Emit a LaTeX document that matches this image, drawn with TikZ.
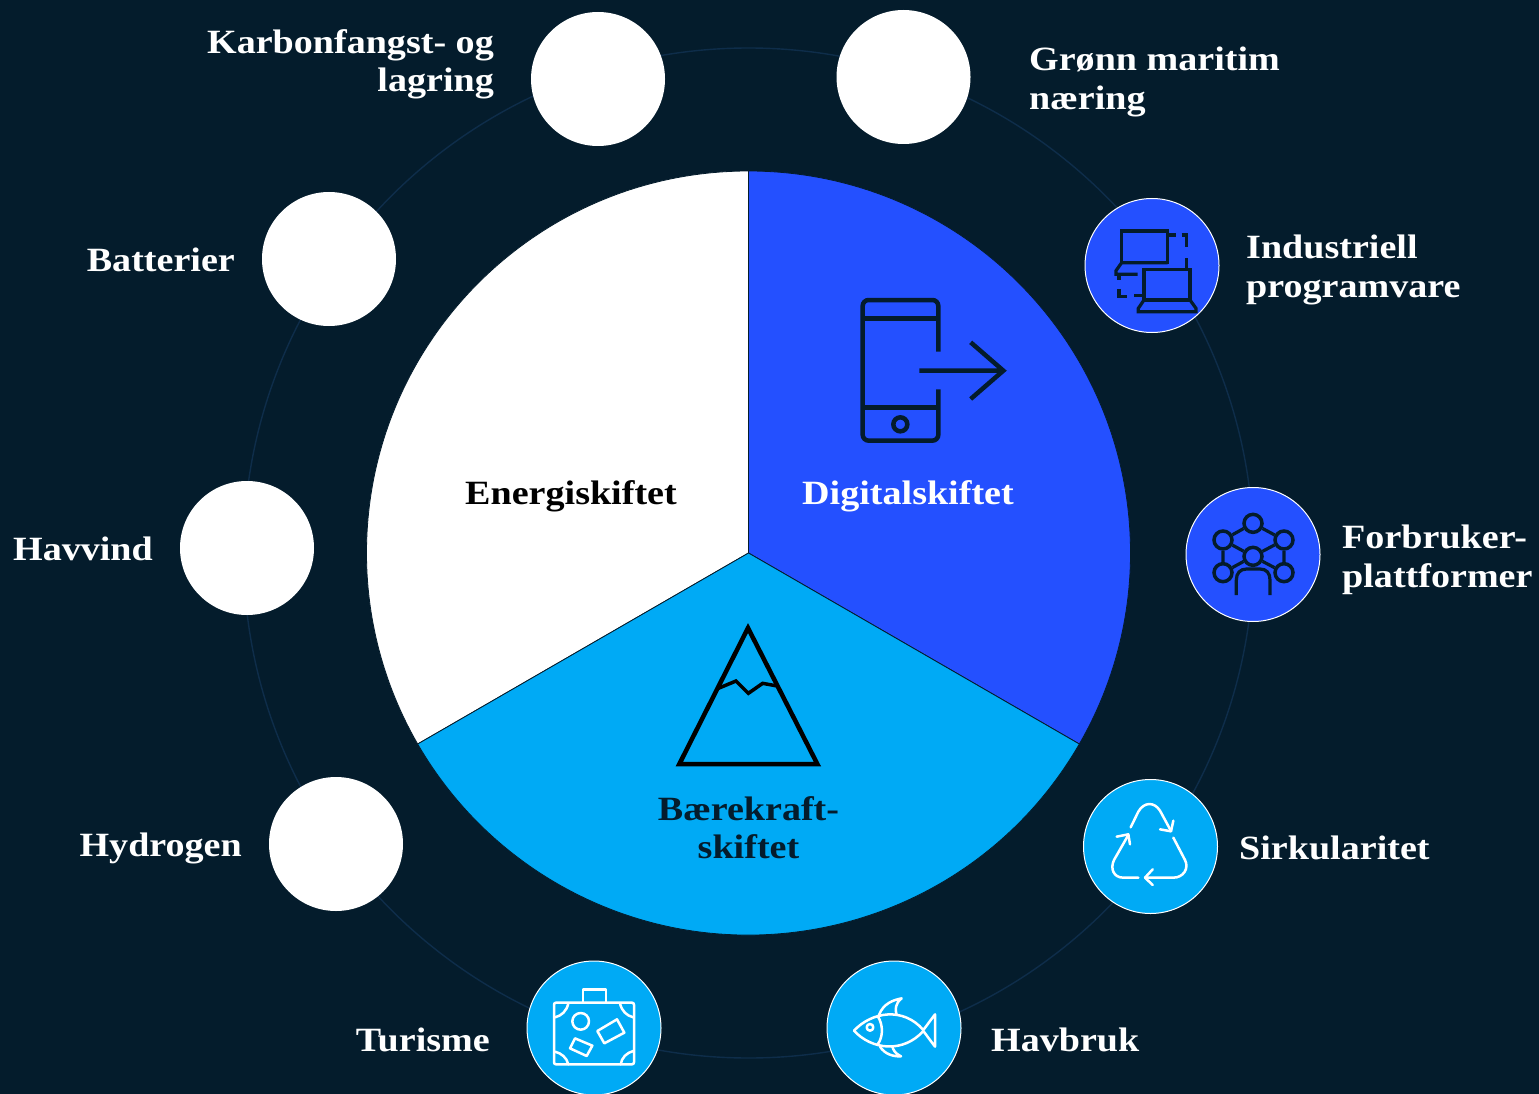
\documentclass[tikz,border=0pt]{standalone}
\usepackage{fontspec}
\setmainfont{Liberation Serif}[FakeStretch=1.12]
\usepackage{tikz}
\definecolor{navy}{HTML}{041C2C}
\definecolor{ringline}{HTML}{0E2D4A}
\definecolor{digiblue}{HTML}{2450FF}
\definecolor{skyblue}{HTML}{00AAF5}
\tikzset{
  disc/.style={circle,minimum size=134pt,inner sep=0pt,fill=white},
  bluedisc/.style={disc,fill=digiblue,draw=white,line width=1pt},
  skydisc/.style={disc,fill=skyblue,draw=white,line width=1pt},
  label/.style={text=white,font=\bfseries\fontsize{34}{38.5}\selectfont,inner sep=0pt,align=left},
  rightlabel/.style={label,align=right},
  darkicon/.style={draw=navy,line width=3.2pt},
  whiteicon/.style={draw=white,line width=2.5pt,line cap=round,line join=round},
  atom/.style={circle,draw=navy,line width=3.5pt,minimum size=18pt,inner sep=0pt},
  wedge/.style={draw=navy,line width=0.8pt}
}
\begin{document}
\begin{tikzpicture}[x=1pt,y=-1pt]
  \useasboundingbox (0,0) rectangle (1539,1094);
  \fill[navy] (0,0) rectangle (1539,1094);
  \begin{scope}
  \clip (0,0) rectangle (1539,1094);
  % ring behind the discs
  \coordinate (hub) at (748.5,553);
  \draw[ringline,line width=1.4pt] (hub) circle (505);

  % the three sectors
  \fill[white,wedge] (hub) -- (748.5,171) arc (-90:-210:382) -- cycle;
  \fill[digiblue,wedge] (hub) -- (748.5,171) arc (-90:30:382) -- cycle;
  \fill[skyblue,wedge] (hub) -- ++(30:382) arc (30:150:382) -- cycle;

  % outer discs
  \node[disc] (karbon) at (598,79) {};
  \node[disc] (maritim) at (903.5,77) {};
  \node[bluedisc] (program) at (1152,265.5) {};
  \node[bluedisc] (plattform) at (1253,554.5) {};
  \node[skydisc] (sirkel) at (1150.5,846.5) {};
  \node[skydisc] (havbruk) at (894,1028) {};
  \node[skydisc] (turisme) at (594,1028) {};
  \node[disc] (hydrogen) at (336,844) {};
  \node[disc] (havvind) at (247,548) {};
  \node[disc] (batteri) at (329,259) {};
  \end{scope}

  % labels
  \node[rightlabel,anchor=east] (karbontext) at (494,64.5) {Karbonfangst- og\\lagring};
  \node[label,anchor=west] (maritimtext) at (1029,82) {Grønn maritim\\næring};
  \node[label,anchor=west] (programtext) at (1246,270) {Industriell\\programvare};
  \node[label,anchor=west] (plattformtext) at (1342,560) {Forbruker-\\plattformer};
  \node[label,anchor=west] (sirkeltext) at (1239,848) {Sirkularitet};
  \node[label,anchor=west] (havbruktext) at (991,1040) {Havbruk};
  \node[label,anchor=east] (turismetext) at (490,1040) {Turisme};
  \node[label,anchor=east] (hydrogentext) at (242,848) {Hydrogen};
  \node[label,anchor=east] (havvindtext) at (153,549) {Havvind};
  \node[label,anchor=east] (batteritext) at (235,260) {Batterier};
  \node[label,text=black] (energi) at (571,496.5) {Energiskiftet};
  \node[label] (digital) at (908,496.5) {Digitalskiftet};
  \node[label,text=navy,align=center] (baere) at (748.5,827.5) {Bærekraft-\\skiftet};

  % laptops
  \begin{scope}[shift={(1060,180)},xscale=1/3,yscale=1/3,darkicon]
    \draw (185,153) rectangle (323,248);
    \draw (323,248) -- (185,248) -- (168,272) -- (168,283) -- (233,283);
    \draw (323,165) -- (348,165) (365,165) -- (380,165) -- (380,200) (380,235) -- (380,265);
    \draw (177,283) -- (177,300) (177,327) -- (177,349) -- (200,349) (222,347) -- (250,347);
    \draw (252,268) rectangle (390,360);
    \draw (252,360) -- (235,385) -- (235,395) -- (408,395) -- (408,385) -- (390,360);
  \end{scope}

  % molecule and person
  \begin{scope}[shift={(1170,470)},xscale=1/3,yscale=1/3]
    \node[atom] (mid) at (249,259) {};
    \node[atom] (top) at (249,160) {};
    \node[atom] (upleft) at (159,210) {};
    \node[atom] (upright) at (342,210) {};
    \node[atom] (lowleft) at (159,308) {};
    \node[atom] (lowright) at (342,308) {};
    \draw[darkicon] (top) -- (upleft) (top) -- (upright) (upleft) -- (lowleft) (upright) -- (lowright);
    \draw[darkicon] (mid) -- (upleft) (mid) -- (upright) (mid) -- (lowleft) (mid) -- (lowright);
    \draw[darkicon] (199,375) -- (199,330) .. controls (199,310) and (210,297) .. (230,297) -- (270,297) .. controls (290,297) and (300,310) .. (300,330) -- (300,375);
  \end{scope}

  % recycling arrows
  \begin{scope}[shift={(1070,770)},xscale=1/3,yscale=1/3,whiteicon]
    \draw (182,172) -- (205,125) .. controls (222,95) and (253,95) .. (270,122) -- (303,183);
    \draw (270,178) -- (303,184) -- (310,152);
    \draw (310,203) -- (345,270) .. controls (358,295) and (340,323) .. (310,323) -- (225,323);
    \draw (248,298) -- (225,323) -- (248,345);
    \draw (205,323) -- (160,323) .. controls (130,323) and (120,295) .. (132,270) -- (175,195);
    \draw (140,200) -- (175,193) -- (180,223);
  \end{scope}

  % fish
  \begin{scope}[shift={(815,955)},xscale=1/3,yscale=1/3,whiteicon]
    \draw (117,227) .. controls (170,170) and (265,155) .. (325,225) -- (360,178) -- (360,275) -- (325,228) .. controls (265,295) and (170,285) .. cycle;
    \draw (188,183) .. controls (205,210) and (205,245) .. (188,268);
    \draw (165,217) circle (10);
    \draw (192,180) .. controls (205,145) and (235,135) .. (260,130) .. controls (240,145) and (240,165) .. (245,180);
    \draw (195,275) .. controls (210,298) and (235,305) .. (258,304) .. controls (240,295) and (235,285) .. (232,275);
  \end{scope}

  % suitcase
  \begin{scope}[shift={(515,955)},xscale=1/3,yscale=1/3,whiteicon]
    \draw[rounded corners=2pt] (117,143) rectangle (357,328);
    \draw (204,143) -- (204,104) -- (273,104) -- (273,143);
    \draw (197,199) circle (25);
    \draw (247,228) -- (306,193) -- (328,233) -- (268,265) -- cycle;
    \draw (180,250) -- (232,272) -- (215,303) -- (165,280) -- cycle;
    \draw (160,145) .. controls (155,168) and (140,182) .. (120,187);
    \draw (315,145) .. controls (320,168) and (335,182) .. (355,187);
    \draw (120,290) .. controls (140,295) and (155,308) .. (160,328);
    \draw (355,288) .. controls (335,293) and (320,308) .. (317,328);
  \end{scope}

  % phone with arrow
  \begin{scope}[shift={(840,285)},xscale=1/3,yscale=1/3,darkicon,line width=4.5pt]
    \draw[rounded corners=6pt] (295,200) -- (295,45) -- (68,45) -- (68,467) -- (295,467) -- (295,313);
    \draw (68,100) -- (295,100) (68,368) -- (295,368);
    \draw (181,418) circle (21);
    \draw (238,257) -- (490,257) (392,172) -- (490,257) -- (392,342);
  \end{scope}

  % mountain
  \begin{scope}[shift={(665,610)},xscale=1/3,yscale=1/3,draw=black,line width=4.5pt]
    \draw (249,54) -- (43,462) -- (457,462) -- cycle;
    \draw[line width=3.5pt] (160,235) -- (213,213) -- (250,250) -- (293,220) -- (337,228);
  \end{scope}
\end{tikzpicture}
\end{document}
